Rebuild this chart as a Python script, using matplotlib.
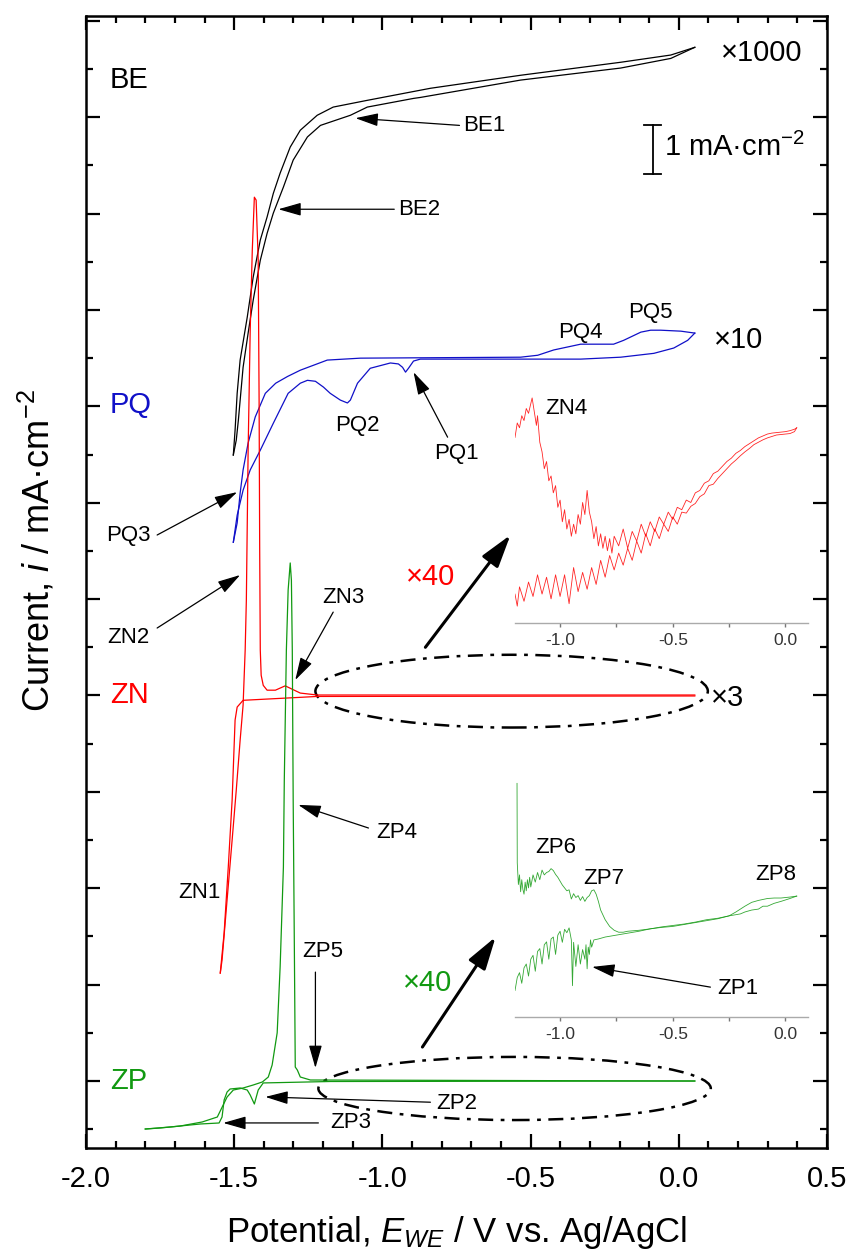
import matplotlib
matplotlib.use('Agg')
import matplotlib.pyplot as plt
import numpy as np
from matplotlib.patches import Ellipse

plt.rcParams['font.family'] = ['Liberation Sans', 'DejaVu Sans']
plt.rcParams['mathtext.fontset'] = 'custom'
plt.rcParams['mathtext.rm'] = 'Liberation Sans'
plt.rcParams['mathtext.it'] = 'Liberation Sans:italic'
plt.rcParams['axes.unicode_minus'] = False

# ---- main panel: stacked CVs (potential in V, current offset in mA cm-2) ----
BE_A_E = [-1.503, -1.497, -1.49, -1.48, -1.456, -1.436, -1.412, -1.389, -1.368, -1.345,
          -1.311, -1.277, -1.22, -1.166, -1.051, -0.838, -0.534, -0.196, -0.027, 0.054]
BE_A_I = [12.99, 13.51, 14.27, 14.96, 15.85, 16.68, 17.45, 17.93, 18.42, 18.84,
          19.38, 19.73, 20.04, 20.21, 20.35, 20.60, 20.87, 21.14, 21.29, 21.45]
BE_B_E = [-1.503, -1.493, -1.486, -1.47, -1.453, -1.436, -1.412, -1.389, -1.368, -1.334,
          -1.301, -1.253, -1.209, -1.108, -1.051, -0.895, -0.872, -0.534, -0.196, -0.027, 0.054]
BE_B_I = [12.99, 13.30, 13.71, 14.81, 15.52, 16.20, 17.03, 17.59, 18.01, 18.55,
          19.11, 19.59, 19.83, 20.04, 20.21, 20.39, 20.41, 20.77, 21.02, 21.22, 21.45]

PQ_AN_E = [-1.503, -1.49, -1.48, -1.47, -1.453, -1.429, -1.395, -1.36, -1.32, -1.277,
           -1.186, -1.074, -0.534, -0.476, -0.422, -0.331, -0.22, -0.186, -0.128, -0.095,
           -0.061, 0.007, 0.054]
PQ_AN_I = [11.18, 11.58, 12.20, 12.68, 13.24, 13.78, 14.27, 14.48, 14.62, 14.75,
           14.96, 15.00, 15.02, 15.06, 15.17, 15.29, 15.29, 15.37, 15.54, 15.58,
           15.58, 15.56, 15.52]
PQ_CA_E = [0.054, 0.030, -0.017, -0.084, -0.196, -0.331, -0.601, -0.872, -0.895, -0.912,
           -0.922, -0.932, -0.946, -0.973, -1.041, -1.084, -1.108, -1.118, -1.142, -1.176,
           -1.199, -1.226, -1.253, -1.277, -1.318, -1.368, -1.412, -1.446, -1.47, -1.49, -1.503]
PQ_CA_I = [15.52, 15.37, 15.21, 15.10, 15.02, 14.98, 14.98, 14.98, 14.94, 14.79,
           14.71, 14.81, 14.88, 14.90, 14.79, 14.48, 14.13, 14.07, 14.13, 14.27,
           14.40, 14.52, 14.54, 14.48, 14.27, 13.65, 13.09, 12.68, 12.26, 11.74, 11.18]

ZN_CA_E = [0.054, -1.22, -1.47, -1.49, -1.497, -1.507, -1.52, -1.534, -1.547]
ZN_CA_I = [7.99, 7.98, 7.90, 7.76, 7.49, 5.83, 4.44, 3.07, 2.24]
ZN_AN_E = [-1.547, -1.541, -1.524, -1.507, -1.493, -1.48, -1.47, -1.463, -1.459, -1.453,
           -1.446, -1.439, -1.432, -1.426, -1.419, -1.416, -1.414, -1.412, -1.409, -1.402,
           -1.389, -1.361, -1.328, -1.311, -1.277, -1.22, 0.054]
ZN_AN_I = [2.24, 2.51, 3.76, 5.00, 6.04, 7.07, 7.80, 8.94, 9.98, 13.09,
           15.58, 17.24, 18.34, 18.28, 17.03, 14.13, 11.02, 8.94, 8.42, 8.21,
           8.11, 8.11, 8.20, 8.15, 8.05, 8.01, 8.01]

ZP_CA_E = [0.054, -1.176, -1.402, -1.419, -1.432, -1.446, -1.456, -1.48, -1.514, -1.524,
           -1.534, -1.541, -1.551, -1.615, -1.716, -1.80]
ZP_CA_I = [0.0, -0.01, -0.04, -0.187, -0.477, -0.29, -0.187, -0.145, -0.166, -0.228,
           -0.394, -0.747, -0.871, -0.892, -0.954, -0.996]
ZP_AN_E = [-1.80, -1.75, -1.682, -1.608, -1.557, -1.524, -1.503, -1.47, -1.436, -1.405,
           -1.385, -1.372, -1.355, -1.345, -1.334, -1.331, -1.324, -1.318, -1.311, -1.307,
           -1.304, -1.301, -1.297, -1.294, -1.287, -1.277, -1.243, 0.054]
ZP_AN_I = [-0.996, -0.975, -0.934, -0.85, -0.747, -0.332, -0.187, -0.145, -0.083, -0.02,
           0.083, 0.332, 1.0, 2.37, 4.44, 6.24, 8.94, 10.19, 10.75, 10.39,
           8.94, 5.83, 2.72, 0.29, 0.228, 0.083, 0.021, 0.0]

# ---- inset 1: ZN x40, -1.2 ... 0.05 V ----
ZN40_AN_E = [-1.20, -1.19, -1.18, -1.17, -1.16, -1.15, -1.14, -1.13, -1.124, -1.115,
             -1.105, -1.10, -1.09, -1.08, -1.07, -1.06, -1.05, -1.04, -1.03, -1.02,
             -1.01, -1.00, -0.99, -0.98, -0.97, -0.96, -0.95, -0.94, -0.93, -0.92,
             -0.91, -0.90, -0.89, -0.88, -0.87, -0.86, -0.85, -0.84, -0.83, -0.82,
             -0.81, -0.80, -0.79, -0.78, -0.77, -0.76, -0.74, -0.72, -0.70, -0.68,
             -0.66, -0.64, -0.62, -0.60, -0.58, -0.56, -0.54, -0.52, -0.50, -0.48,
             -0.46, -0.44, -0.42, -0.40, -0.38, -0.36, -0.34, -0.32, -0.30, -0.28,
             -0.26, -0.24, -0.22, -0.20, -0.18, -0.16, -0.14, -0.12, -0.10, -0.08,
             -0.06, -0.04, -0.02, 0.00, 0.02, 0.04, 0.05]
ZN40_AN_I = [3.85, 4.15, 4.05, 4.30, 4.20, 4.45, 4.35, 4.55, 4.67, 4.40,
             4.10, 4.30, 3.75, 3.55, 3.20, 3.35, 2.95, 3.05, 2.70, 2.85,
             2.40, 2.55, 2.10, 2.35, 1.95, 2.15, 1.80, 2.05, 1.85, 2.25,
             2.05, 2.50, 2.25, 2.75, 2.30, 2.10, 1.75, 2.00, 1.60, 1.85,
             1.55, 1.80, 1.50, 1.75, 1.45, 1.80, 1.60, 1.95, 1.55, 1.90,
             1.70, 2.05, 1.80, 2.10, 1.90, 2.20, 2.05, 2.30, 2.15, 2.40,
             2.35, 2.55, 2.50, 2.70, 2.75, 2.90, 2.95, 3.10, 3.15, 3.25,
             3.35, 3.42, 3.52, 3.58, 3.66, 3.72, 3.78, 3.84, 3.88, 3.92,
             3.94, 3.95, 3.96, 3.97, 3.99, 4.02, 4.05]
ZN40_CA_E = [0.05, 0.04, 0.02, 0.00, -0.02, -0.04, -0.06, -0.08, -0.10, -0.12,
             -0.14, -0.16, -0.18, -0.20, -0.22, -0.24, -0.26, -0.28, -0.30, -0.32,
             -0.34, -0.36, -0.38, -0.40, -0.42, -0.44, -0.46, -0.48, -0.50, -0.52,
             -0.54, -0.56, -0.58, -0.60, -0.62, -0.64, -0.66, -0.68, -0.70, -0.72,
             -0.74, -0.76, -0.78, -0.80, -0.82, -0.84, -0.86, -0.88, -0.90, -0.92,
             -0.94, -0.96, -0.98, -1.00, -1.02, -1.04, -1.06, -1.08, -1.10, -1.12,
             -1.14, -1.16, -1.18, -1.19, -1.20]
ZN40_CA_I = [4.05, 3.97, 3.93, 3.92, 3.91, 3.90, 3.87, 3.84, 3.80, 3.75,
             3.70, 3.62, 3.55, 3.47, 3.38, 3.30, 3.20, 3.10, 3.00, 2.88,
             2.85, 2.68, 2.62, 2.48, 2.42, 2.28, 2.30, 2.05, 2.20, 1.90,
             2.05, 1.75, 1.95, 1.60, 1.85, 1.45, 1.70, 1.30, 1.55, 1.20,
             1.45, 1.10, 1.40, 0.95, 1.30, 0.80, 1.15, 0.70, 1.05, 0.65,
             1.15, 0.40, 1.00, 0.55, 1.00, 0.50, 0.95, 0.60, 1.00, 0.55,
             0.85, 0.45, 0.75, 0.35, 0.60]

# ---- inset 2: ZP x40 ----
ZP40_AN_E = [-1.191, -1.19, -1.185, -1.18, -1.175, -1.17, -1.165, -1.16, -1.155, -1.15,
             -1.145, -1.14, -1.135, -1.13, -1.12, -1.11, -1.10, -1.09, -1.08, -1.07,
             -1.06, -1.05, -1.04, -1.03, -1.02, -1.01, -1.00, -0.99, -0.98, -0.97,
             -0.96, -0.95, -0.94, -0.93, -0.92, -0.91, -0.90, -0.89, -0.88, -0.87,
             -0.86, -0.85, -0.84, -0.83, -0.82, -0.80, -0.78, -0.76, -0.74, -0.72,
             -0.70, -0.65, -0.60, -0.55, -0.50, -0.45, -0.40, -0.35, -0.30, -0.25,
             -0.22, -0.20, -0.18, -0.15, -0.12, -0.10, -0.08, -0.05, -0.02, 0.00,
             0.02, 0.05]
ZP40_AN_I = [4.85, 3.20, 2.75, 2.95, 2.60, 2.85, 2.65, 2.55, 2.80, 2.62,
             2.85, 2.68, 2.90, 2.70, 2.95, 2.80, 3.00, 2.85, 3.05, 2.95,
             3.00, 3.02, 3.08, 3.04, 2.96, 2.90, 2.82, 2.74, 2.68, 2.62,
             2.64, 2.45, 2.56, 2.48, 2.52, 2.42, 2.50, 2.40, 2.48, 2.52,
             2.62, 2.64, 2.55, 2.40, 2.22, 2.02, 1.88, 1.80, 1.76, 1.76,
             1.78, 1.80, 1.83, 1.86, 1.88, 1.92, 1.96, 2.00, 2.04, 2.10,
             2.18, 2.24, 2.30, 2.38, 2.42, 2.44, 2.46, 2.47, 2.47, 2.48,
             2.49, 2.51]
ZP40_CA_E = [0.05, 0.02, 0.00, -0.02, -0.05, -0.08, -0.10, -0.12, -0.15, -0.18,
             -0.20, -0.25, -0.30, -0.35, -0.40, -0.45, -0.50, -0.55, -0.60, -0.65,
             -0.70, -0.75, -0.80, -0.83, -0.85, -0.86, -0.865, -0.87, -0.875, -0.88,
             -0.885, -0.89, -0.90, -0.91, -0.92, -0.93, -0.94, -0.945, -0.95, -0.96,
             -0.97, -0.98, -0.99, -1.00, -1.01, -1.02, -1.03, -1.04, -1.05, -1.06,
             -1.07, -1.08, -1.09, -1.10, -1.11, -1.12, -1.13, -1.14, -1.15, -1.16,
             -1.17, -1.18, -1.19, -1.20]
ZP40_CA_I = [2.51, 2.46, 2.43, 2.40, 2.36, 2.30, 2.30, 2.24, 2.22, 2.18,
             2.14, 2.10, 2.05, 2.02, 1.97, 1.93, 1.90, 1.87, 1.83, 1.78,
             1.74, 1.70, 1.66, 1.62, 1.60, 1.45, 1.60, 1.30, 1.45, 1.00,
             1.50, 1.20, 1.40, 1.10, 1.50, 1.05, 1.55, 0.65, 1.60, 1.85,
             1.75, 1.82, 1.55, 1.78, 1.70, 1.30, 1.66, 1.62, 1.20, 1.56,
             1.50, 1.10, 1.42, 1.36, 0.95, 1.28, 1.20, 0.85, 1.10, 1.02,
             0.70, 0.92, 0.82, 0.55]

BLACK, BLUE, RED, GREEN = '#000000', '#1010c8', '#ff0000', '#119911'

# text labels: (text, x, y, ha, color, size)
LABELS = [
    ('BE', -1.919, 20.77, 'left', BLACK, 21), ('PQ', -1.919, 14.02, 'left', BLUE, 21),
    ('ZN', -1.919, 8.0, 'left', RED, 21), ('ZP', -1.919, 0.0, 'left', GREEN, 21),
    ('×1000', 0.142, 21.33, 'left', BLACK, 21), ('×10', 0.118, 15.37, 'left', BLACK, 21),
    ('×3', 0.108, 7.95, 'left', BLACK, 21),
    ('×40', -0.922, 10.46, 'left', RED, 21), ('×40', -0.929, 2.03, 'left', GREEN, 21),
    ('BE1', -0.726, 19.83, 'left', BLACK, 16), ('BE2', -0.946, 18.09, 'left', BLACK, 16),
    ('PQ1', -0.75, 13.03, 'center', BLACK, 16), ('PQ2', -1.084, 13.61, 'center', BLACK, 16),
    ('PQ3', -1.858, 11.33, 'center', BLACK, 16), ('PQ4', -0.331, 15.54, 'center', BLACK, 16),
    ('PQ5', -0.095, 15.95, 'center', BLACK, 16),
    ('ZN1', -1.618, 3.92, 'center', BLACK, 16), ('ZN2', -1.858, 9.21, 'center', BLACK, 16),
    ('ZN3', -1.132, 10.04, 'center', BLACK, 16),
    ('ZP2', -0.75, -0.46, 'center', BLACK, 16), ('ZP3', -1.108, -0.87, 'center', BLACK, 16),
    ('ZP4', -0.953, 5.15, 'center', BLACK, 16), ('ZP5', -1.20, 2.68, 'center', BLACK, 16),
]
# arrows: (start, tip, thick)
ARROWS = [
    ((-0.74, 19.83), (-1.091, 19.98), False), ((-0.96, 18.09), (-1.351, 18.09), False),
    ((-0.78, 13.36), (-0.895, 14.71), False), ((-1.76, 11.33), (-1.49, 12.22), False),
    ((-1.76, 9.40), (-1.48, 10.50), False), ((-1.166, 9.73), (-1.294, 8.32), False),
    ((-0.838, -0.44), (-1.395, -0.33), False), ((-1.216, -0.87), (-1.537, -0.87), False),
    ((-1.047, 5.25), (-1.284, 5.73), False), ((-1.226, 2.26), (-1.226, 0.27), False),
    ((-0.855, 9.00), (-0.568, 11.33), True), ((-0.865, 0.705), (-0.618, 2.99), True),
]


def arrow(ax, start, tip, thick=False):
    if thick:
        props = dict(arrowstyle='-|>,head_length=1.0,head_width=0.3', mutation_scale=20,
                     lw=2.2, color='black', shrinkA=0, shrinkB=0)
    else:
        props = dict(arrowstyle='-|>,head_length=0.7,head_width=0.2', mutation_scale=20,
                     lw=0.9, color='black', shrinkA=0, shrinkB=0)
    ax.annotate('', xy=tip, xytext=start, arrowprops=props, zorder=5)


def style_inset(axi):
    axi.patch.set_alpha(0)
    for s in ('top', 'left', 'right'):
        axi.spines[s].set_visible(False)
    axi.spines['bottom'].set_color('#aaaaaa')
    axi.spines['bottom'].set_linewidth(1.0)
    axi.set_xlim(-1.2, 0.1)
    axi.set_xticks([-1.0, -0.5, 0.0])
    axi.set_xticklabels(['-1.0', '-0.5', '0.0'])
    axi.set_xticks([-0.75, -0.25], minor=True)
    axi.set_yticks([])
    axi.tick_params(axis='x', which='both', direction='out', length=3, width=1,
                    color='#777777', labelsize=12.5, labelcolor='#333333', pad=4)


fig = plt.figure(figsize=(8.51, 12.54), dpi=100)
ax = fig.add_axes([86 / 851, 1 - 1148 / 1254, 741 / 851, 1132 / 1254])

lw = 0.9
ax.plot(BE_A_E, BE_A_I, color=BLACK, lw=lw)
ax.plot(BE_B_E, BE_B_I, color=BLACK, lw=lw)
ax.plot(PQ_AN_E, PQ_AN_I, color=BLUE, lw=lw)
ax.plot(PQ_CA_E, PQ_CA_I, color=BLUE, lw=lw)
ax.plot(ZN_CA_E, ZN_CA_I, color=RED, lw=lw)
ax.plot(ZN_AN_E, ZN_AN_I, color=RED, lw=lw)
ax.plot(ZP_CA_E, ZP_CA_I, color=GREEN, lw=lw)
ax.plot(ZP_AN_E, ZP_AN_I, color=GREEN, lw=lw)

ax.set_xlim(-2.0, 0.5)
ax.set_ylim(-1.39, 22.1)
ax.set_xticks(np.arange(-2.0, 0.51, 0.5))
ax.set_xticklabels(['-2.0', '-1.5', '-1.0', '-0.5', '0.0', '0.5'])
ax.set_xticks(np.arange(-2.0, 0.51, 0.1), minor=True)
ax.set_yticks(np.arange(0, 22.1, 2))
ax.set_yticks(np.arange(-1, 22.1, 1), minor=True)
ax.set_yticklabels([])
ax.tick_params(which='both', direction='in', top=True, right=True, width=1.6)
ax.tick_params(which='major', length=10, labelsize=21, pad=12)
ax.tick_params(which='minor', length=5)
for s in ax.spines.values():
    s.set_linewidth(1.8)

ax.set_xlabel('Potential, $E_{WE}$ / V vs. Ag/AgCl', fontsize=25)
ax.set_ylabel('Current, $i$ / mA\u00b7cm$^{-2}$', fontsize=26)
ax.xaxis.set_label_coords(0.5, -0.058)
ax.yaxis.set_label_coords(-0.038, 0.528)

# zoom ellipses
ax.add_patch(Ellipse((-0.564, 8.09), 1.324, 1.51, fill=False, lw=1.8, color='black',
                     linestyle=(0, (6, 3, 1.5, 3))))
ax.add_patch(Ellipse((-0.554, -0.155), 1.324, 1.31, fill=False, lw=1.8, color='black',
                     linestyle=(0, (6, 3, 1.5, 3))))

# scale bar 1 mA cm-2
ax.plot([-0.088, -0.088], [18.83, 19.83], color='black', lw=1.3)
ax.plot([-0.117, -0.059], [18.83, 18.83], color='black', lw=1.3)
ax.plot([-0.117, -0.059], [19.83, 19.83], color='black', lw=1.3)
ax.text(-0.051, 19.38, '1 mA\u00b7cm$^{-2}$', fontsize=21, va='center', ha='left')

for text, x, y, ha, color, size in LABELS:
    ax.text(x, y, text, ha=ha, va='center', color=color, fontsize=size, zorder=6)
for start, tip, thick in ARROWS:
    arrow(ax, start, tip, thick)

# insets
ax1 = fig.add_axes([515 / 851, 1 - 623 / 1254, 293 / 851, 228 / 1254])
style_inset(ax1)
ax1.set_ylim(0, 4.73)
ax1.plot(ZN40_AN_E, ZN40_AN_I, color=RED, lw=0.6, alpha=0.85)
ax1.plot(ZN40_CA_E, ZN40_CA_I, color=RED, lw=0.6, alpha=0.85)
ax1.text(-1.067, 4.46, 'ZN4', fontsize=16, va='center', ha='left', clip_on=False)

ax2 = fig.add_axes([515 / 851, 1 - 1017 / 1254, 293 / 851, 237 / 1254])
style_inset(ax2)
ax2.set_ylim(0, 4.92)
ax2.plot(ZP40_AN_E, ZP40_AN_I, color=GREEN, lw=0.6, alpha=0.85)
ax2.plot(ZP40_CA_E, ZP40_CA_I, color=GREEN, lw=0.6, alpha=0.85)
ax2.text(-1.111, 3.51, 'ZP6', fontsize=16, va='center', ha='left')
ax2.text(-0.898, 2.88, 'ZP7', fontsize=16, va='center', ha='left')
ax2.text(-0.133, 2.95, 'ZP8', fontsize=16, va='center', ha='left')
ax2.text(-0.302, 0.60, 'ZP1', fontsize=16, va='center', ha='left')
arrow(ax2, (-0.333, 0.62), (-0.858, 1.04))

fig.savefig('out.png', dpi=100)
